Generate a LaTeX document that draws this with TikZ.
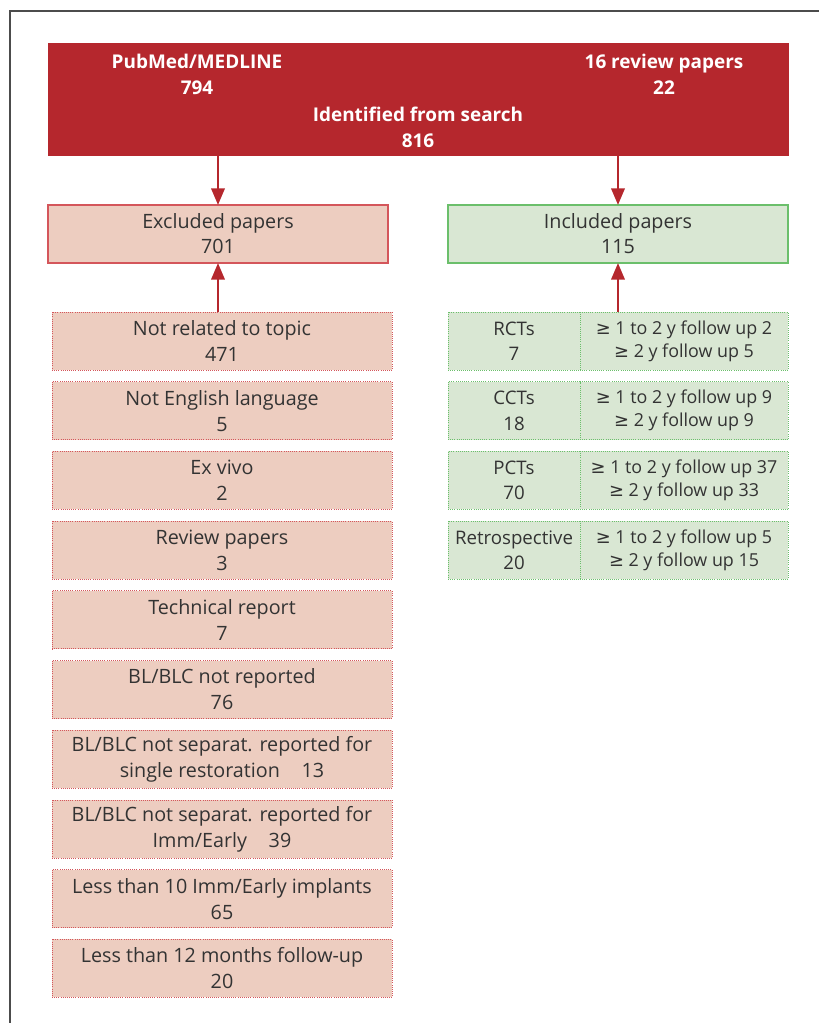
\documentclass[tikz,border=0pt]{standalone}
\usepackage{fontspec}
\setmainfont{Open Sans}
\newfontfamily\symfont{DejaVu Sans}
\usetikzlibrary{arrows.meta}
\definecolor{topred}{HTML}{B5272D}
\definecolor{exclfill}{HTML}{EDCDC0}
\definecolor{exclline}{HTML}{D4565B}
\definecolor{inclfill}{HTML}{D9E7D3}
\definecolor{inclline}{HTML}{6BBF6B}
\definecolor{txt}{HTML}{333333}
\newcommand{\pxl}{0.75pt}
\newcommand{\atleast}{{\symfont ≥}}

\begin{document}
\begin{tikzpicture}[x=0.75pt,y=-0.75pt,
  every node/.style={inner sep=0pt, outer sep=0pt, text=txt, align=center},
  titletext/.style={text=white, font=\fontsize{14.2}{19.5}\selectfont\bfseries},
  mainbox/.style={draw, line width=0.8pt, minimum width=340*\pxl, minimum height=58*\pxl,
    font=\fontsize{14.8}{18.8}\selectfont},
  exclitem/.style={fill=exclfill, draw=exclline, densely dotted, line width=0.6pt,
    minimum width=340*\pxl, minimum height=58*\pxl, font=\fontsize{14.8}{19.5}\selectfont},
  inclkind/.style={fill=inclfill, draw=inclline, densely dotted, line width=0.6pt,
    minimum width=132*\pxl, minimum height=58*\pxl, font=\fontsize{14}{19}\selectfont},
  inclfu/.style={fill=inclfill, draw=inclline, densely dotted, line width=0.6pt,
    minimum width=208*\pxl, minimum height=58*\pxl, font=\fontsize{13.4}{17.3}\selectfont},
  arr/.style={-{Triangle[width=10pt,length=12.5pt]}, draw=topred, line width=2pt}]
\useasboundingbox (0,0) rectangle (818,1023);
\draw[black!70, line width=0.9pt] (10,1030) -- (10,11) -- (830,11);
% search
\node[fill=topred, minimum width=741*\pxl, minimum height=113*\pxl] (search) at (418.5,99.5) {};
\node[titletext] (pubmed) at (197,74) {PubMed/MEDLINE\\794};
\node[titletext] (reviews) at (664,74) {16 review papers\\22};
\node[titletext] (identified) at (418,127.5) {Identified from search\\816};
% excluded / included
\node[mainbox, fill=exclfill, draw=exclline] (excl) at (218,234) {Excluded papers\\701};
\node[mainbox, fill=inclfill, draw=inclline] (incl) at (618,234) {Included papers\\115};
\draw[arr] (search.south -| excl.north) -- (excl.north);
\draw[arr] (search.south -| incl.north) -- (incl.north);
% reasons for exclusion
\node[exclitem] (nrel) at (222,341) {Not related to topic\\471};
\node[exclitem] (nenglish) at (222,410.7) {Not English language\\5};
\node[exclitem] (exvivo) at (222,480.4) {Ex vivo\\2};
\node[exclitem] (review) at (222,550.1) {Review papers\\3};
\node[exclitem] (techrep) at (222,619.8) {Technical report\\7};
\node[exclitem] (notrep) at (222,689.5) {BL/BLC not reported\\76};
\node[exclitem] (single) at (222,759.2) {BL/BLC not separat. reported for\\single restoration\hspace{1.1em}13};
\node[exclitem] (immearly) at (222,828.9) {BL/BLC not separat. reported for\\Imm/Early\hspace{1.1em}39};
\node[exclitem] (lessten) at (222,898.6) {Less than 10 Imm/Early implants\\65};
\node[exclitem] (lesstwelve) at (222,968.3) {Less than 12 months follow-up\\20};
\draw[arr] (excl.south |- nrel.north) -- (excl.south);
% included study types
\node[inclkind] (rct) at (514,341) {RCTs\\7};
\node[inclfu] (rctfu) at (684,341) {\atleast{} 1 to 2 y follow up 2\\\atleast{} 2 y follow up 5};
\node[inclkind] (cct) at (514,410.7) {CCTs\\18};
\node[inclfu] (cctfu) at (684,410.7) {\atleast{} 1 to 2 y follow up 9\\\atleast{} 2 y follow up 9};
\node[inclkind] (pct) at (514,480.4) {PCTs\\70};
\node[inclfu] (pctfu) at (684,480.4) {\atleast{} 1 to 2 y follow up 37\\\atleast{} 2 y follow up 33};
\node[inclkind] (retro) at (514,550.1) {Retrospective\\20};
\node[inclfu] (retrofu) at (684,550.1) {\atleast{} 1 to 2 y follow up 5\\\atleast{} 2 y follow up 15};
\draw[arr] (incl.south |- rctfu.north) -- (incl.south);
\end{tikzpicture}
\end{document}
